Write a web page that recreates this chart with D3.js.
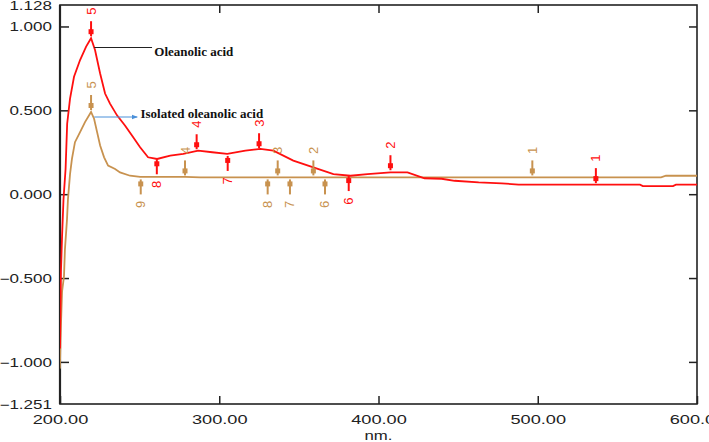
<!DOCTYPE html>
<html>
<head>
<meta charset="utf-8">
<script src="https://cdn.jsdelivr.net/npm/d3@7"></script>
<style>
  html, body { margin: 0; padding: 0; background: #fff; }
  svg { display: block; }
</style>
</head>
<body>
<svg id="chart" width="709" height="442"></svg>
<script>
// ---------------- data ----------------
const xTicks = [200, 300, 400, 500, 600];
const yTicks = [-1.251, -1.0, -0.5, 0.0, 0.5, 1.0, 1.128];
const xLabel = "nm.";

// Oleanolic acid (red)
const redNm  = [200.0, 200.6, 201.3, 202.2, 203.5, 204.5, 206.3, 208.8, 212.6, 216.4, 219.5,
                222.0, 225.2, 228.3, 231.4, 235.8, 240.8, 245.2, 250.3, 255.3, 261.0, 269.2,
                277.4, 286.8, 295.6, 305.0, 316.4, 325.8, 334.0, 346.5, 359.1, 371.7, 382.4,
                393.1, 407.5, 418.2, 428.9, 439.6, 447.8, 462.9, 477.4, 488.0, 564.2, 566.0,
                584.9, 586.8, 600.0];
const redAbs = [-0.92, -0.46, -0.25, -0.03, 0.15, 0.42, 0.57, 0.70, 0.80, 0.88, 0.93,
                0.86, 0.72, 0.60, 0.54, 0.47, 0.41, 0.35, 0.28, 0.22, 0.21, 0.23,
                0.24, 0.26, 0.25, 0.24, 0.26, 0.27, 0.26, 0.20, 0.16, 0.12, 0.11,
                0.12, 0.13, 0.13, 0.095, 0.092, 0.08, 0.07, 0.065, 0.057, 0.057, 0.048,
                0.048, 0.057, 0.057];

// Isolated oleanolic acid (tan)
const tanNm  = [199.9, 200.6, 201.3, 202.5, 203.1, 204.4, 205.0, 206.3, 207.5, 209.4, 212.6,
                215.7, 219.5, 221.4, 223.3, 225.2, 227.7, 230.2, 234.6, 237.7, 244.0, 250.3,
                256.6, 278.6, 288.0, 577.4, 580.5, 600.0];
const tanAbs = [-1.04, -0.78, -0.58, -0.49, -0.33, -0.15, -0.03, 0.12, 0.21, 0.31, 0.37,
                0.43, 0.49, 0.45, 0.37, 0.29, 0.22, 0.17, 0.15, 0.13, 0.11, 0.103,
                0.103, 0.103, 0.10, 0.10, 0.11, 0.11];

// peak / valley picks
const redPeakNo   = ["5", "4", "3", "2", "1"];
const redPeakNm   = [219.5, 285.8, 325.0, 407.5, 536.5];
const redPeakAbs  = [0.93, 0.256, 0.262, 0.131, 0.054];
const redValNo    = ["8", "7", "6"];
const redValNm    = [260.8, 305.3, 381.3];
const redValAbs   = [0.22, 0.24, 0.12];

const tanPeakNo   = ["5", "4", "3", "2", "1"];
const tanPeakNm   = [219.5, 278.5, 336.7, 359.1, 496.6];
const tanPeakAbs  = [0.49, 0.10, 0.10, 0.10, 0.10];
const tanValNo    = ["9", "8", "7", "6"];
const tanValNm    = [250.7, 330.4, 344.4, 366.4];
const tanValAbs   = [0.10, 0.10, 0.10, 0.10];

const seriesNames = ["Oleanolic acid", "Isolated oleanolic acid"];

// ---------------- layout ----------------
const svg = d3.select("#chart");
const L = 60, R = 697, T = 5, B = 404;
const x = d3.scaleLinear().domain([200, 600]).range([L, R]);
const y = d3.scaleLinear().domain([-1.251, 1.128]).range([B, T]);

const RED = "#ff0f0f";
const TAN = "#c8924f";
const AX = "#222";

svg.append("defs").append("clipPath").attr("id", "clip")
  .append("rect").attr("x", L).attr("y", T).attr("width", R - L).attr("height", B - T);

// axes (ticks inside)
const gx = svg.append("g").attr("transform", `translate(0,${B})`)
  .call(d3.axisBottom(x).tickValues(xTicks).tickSizeInner(-8).tickSizeOuter(0)
        .tickFormat(d3.format(".2f")));
const gxt = svg.append("g").attr("transform", `translate(0,${T})`)
  .call(d3.axisTop(x).tickValues(xTicks.slice(1, -1)).tickSizeInner(-8).tickSizeOuter(0).tickFormat(""));
const gy = svg.append("g").attr("transform", `translate(${L},0)`)
  .call(d3.axisLeft(y).tickValues(yTicks).tickSizeInner(-9).tickSizeOuter(0)
        .tickFormat(d3.format(".3f")));
const gyr = svg.append("g").attr("transform", `translate(${R},0)`)
  .call(d3.axisRight(y).tickValues(yTicks.slice(1, -1)).tickSizeInner(-8).tickSizeOuter(0).tickFormat(""));

[gx, gxt, gy, gyr].forEach(g => {
  g.select(".domain").remove();
  g.selectAll(".tick line").attr("stroke", AX).attr("stroke-width", 1.5);
});
gy.selectAll(".tick").filter(d => d === 1.128 || d === -1.251).select("line").remove();

gy.selectAll(".tick text")
  .attr("x", null).attr("dy", null)
  .attr("transform", "translate(-8,4.5) scale(1.42,1)")
  .attr("text-anchor", "end")
  .attr("font-family", "Liberation Sans, Arial, sans-serif")
  .attr("font-size", 12)
  .attr("fill", AX);

gx.selectAll(".tick text")
  .attr("y", null).attr("dy", null)
  .attr("transform", "translate(0,20) scale(1.4,1)")
  .attr("text-anchor", "middle")
  .attr("font-family", "Liberation Sans, Arial, sans-serif")
  .attr("font-size", 13)
  .attr("fill", AX);

svg.append("text")
  .attr("transform", `translate(${(L + R) / 2},440) scale(1.4,1)`)
  .attr("text-anchor", "middle")
  .attr("font-family", "Liberation Sans, Arial, sans-serif")
  .attr("font-size", 12)
  .attr("fill", AX)
  .text(xLabel);

// frame
svg.append("rect").attr("x", L).attr("y", T).attr("width", R - L).attr("height", B - T)
  .attr("fill", "none").attr("stroke", AX).attr("stroke-width", 1.6);
svg.append("line").attr("x1", L).attr("x2", L).attr("y1", T).attr("y2", B)
  .attr("stroke", AX).attr("stroke-width", 2.2);

// curves
const line = d3.line().x(d => x(d[0])).y(d => y(d[1])).curve(d3.curveLinear);
const plot = svg.append("g").attr("clip-path", "url(#clip)");
plot.append("path").datum(d3.zip(tanNm, tanAbs))
  .attr("d", line).attr("fill", "none").attr("stroke", TAN).attr("stroke-width", 1.8);
plot.append("path").datum(d3.zip(redNm, redAbs))
  .attr("d", line).attr("fill", "none").attr("stroke", RED).attr("stroke-width", 1.8);

// pick markers
function picks(nos, nms, abs, color, isPeak) {
  const g = svg.append("g");
  nos.forEach((no, i) => {
    const cx = x(nms[i]), cy = y(abs[i]);
    const s = isPeak ? -1 : 1;
    g.append("line").attr("x1", cx).attr("x2", cx)
      .attr("y1", cy + s * 2).attr("y2", cy + s * 17)
      .attr("stroke", color).attr("stroke-width", 2);
    g.append("rect").attr("x", cx - 2.5).attr("y", cy + s * 6.5 - 2.5)
      .attr("width", 5).attr("height", 5).attr("fill", color);
    g.append("text")
      .attr("transform", `translate(${cx + 4.5},${cy + s * 27}) rotate(-90)`)
      .attr("text-anchor", "middle")
      .attr("font-family", "Liberation Sans, Arial, sans-serif")
      .attr("font-size", 13)
      .attr("fill", color)
      .text(no);
  });
}
picks(tanPeakNo, tanPeakNm, tanPeakAbs, TAN, true);
picks(tanValNo, tanValNm, tanValAbs, TAN, false);
picks(redPeakNo, redPeakNm, redPeakAbs, RED, true);
picks(redValNo, redValNm, redValAbs, RED, false);

// annotations
const defs = svg.select("defs");
defs.append("marker").attr("id", "arr").attr("viewBox", "0 0 10 10")
  .attr("refX", 9).attr("refY", 5).attr("markerWidth", 6).attr("markerHeight", 6)
  .attr("orient", "auto")
  .append("path").attr("d", "M0,1 L10,5 L0,9 Z").attr("fill", "#4a90d9");

svg.append("line").attr("x1", x(221.5)).attr("x2", x(257.8)).attr("y1", 47.5).attr("y2", 47.5)
  .attr("stroke", "#222").attr("stroke-width", 1);
svg.append("text").attr("x", x(259.2)).attr("y", 55.5)
  .attr("font-family", "Liberation Serif, Times New Roman, serif")
  .attr("font-weight", "bold").attr("font-size", 13).attr("fill", "#111")
  .text(seriesNames[0]);

svg.append("line").attr("x1", x(221.5)).attr("x2", x(248.5)).attr("y1", 117).attr("y2", 117)
  .attr("stroke", "#4a90d9").attr("stroke-width", 1).attr("marker-end", "url(#arr)");
svg.append("text").attr("x", x(250.5)).attr("y", 118)
  .attr("font-family", "Liberation Serif, Times New Roman, serif")
  .attr("font-weight", "bold").attr("font-size", 13).attr("fill", "#111")
  .text(seriesNames[1]);
</script>
</body>
</html>
